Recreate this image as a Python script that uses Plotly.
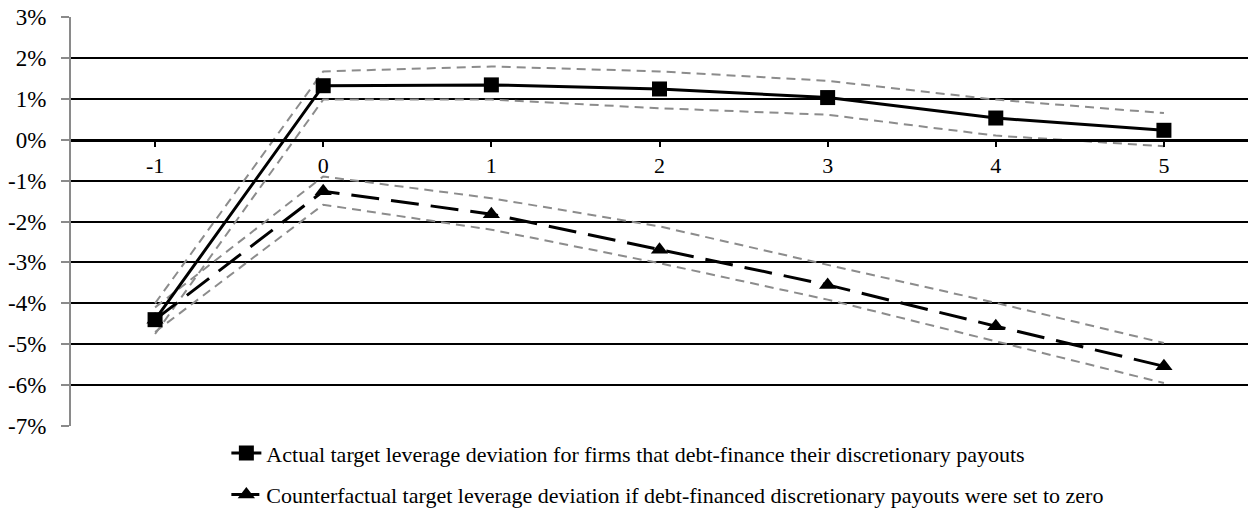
import plotly.graph_objects as go

# Event years relative to the payout
years = ["-1", "0", "1", "2", "3", "4", "5"]

# Target leverage deviation (%), actual path and its confidence band
actual = [-4.40, 1.32, 1.34, 1.24, 1.03, 0.53, 0.23]
actual_hi = [-4.00, 1.67, 1.79, 1.67, 1.44, 0.98, 0.65]
actual_lo = [-4.75, 0.98, 0.98, 0.77, 0.61, 0.10, -0.16]

# Counterfactual path (%) and its confidence band
counter = [-4.40, -1.26, -1.82, -2.69, -3.55, -4.56, -5.54]
counter_hi = [-4.10, -0.90, -1.43, -2.12, -3.06, -3.99, -4.97]
counter_lo = [-4.70, -1.59, -2.20, -3.02, -3.91, -4.93, -5.95]

y_tickvals = [-7, -6, -5, -4, -3, -2, -1, 0, 1, 2, 3]
y_ticktext = ["-7%", "-6%", "-5%", "-4%", "-3%", "-2%", "-1%", "0%", "1%", "2%", "3%"]

name_actual = "Actual target leverage deviation for firms that debt-finance their discretionary payouts"
name_counter = "Counterfactual target leverage deviation if debt-financed discretionary payouts were set to zero"

FONT = "Liberation Serif"
FSIZE = 22
band_line = dict(color="#8c8c8c", width=2, dash="9px,6px")

fig = go.Figure()

for band in (actual_hi, actual_lo, counter_hi, counter_lo):
    fig.add_trace(go.Scatter(x=years, y=band, mode="lines", line=band_line,
                             showlegend=False, hoverinfo="skip"))

fig.add_trace(go.Scatter(
    x=years, y=actual, mode="lines+markers", name=name_actual,
    legendgroup="a",
    line=dict(color="black", width=3),
    marker=dict(symbol="square", size=15, color="black"),
))
fig.add_trace(go.Scatter(
    x=years, y=counter, mode="lines+markers", name=name_counter,
    legendgroup="b",
    line=dict(color="black", width=3, dash="28px,12px"),
    marker=dict(symbol="triangle-up", size=15, color="black"),
))

fig.update_layout(
    width=1249, height=517,
    margin=dict(l=71, r=1, t=17, b=91),
    paper_bgcolor="white", plot_bgcolor="white",
    font=dict(family=FONT, size=FSIZE, color="black"),
    showlegend=True,
    legend=dict(
        x=0.132, xanchor="left", y=-0.015, yanchor="top",
        orientation="v", traceorder="grouped", tracegroupgap=10,
        font=dict(family=FONT, size=FSIZE, color="black"),
        bgcolor="rgba(0,0,0,0)",
    ),
    xaxis=dict(
        type="category", categoryorder="array", categoryarray=years,
        range=[-0.5, 6.5],
        anchor="free", position=0.7,
        showline=True, linecolor="black", linewidth=3,
        ticks="outside", ticklen=5, tickwidth=2, tickcolor="black",
        showgrid=False, zeroline=False,
        tickfont=dict(family=FONT, size=FSIZE, color="black"),
    ),
    yaxis=dict(
        range=[-7, 3],
        tickvals=y_tickvals, ticktext=y_ticktext,
        showgrid=True, gridcolor="black", gridwidth=1.5,
        zeroline=False,
        showline=True, linecolor="#8a8a8a", linewidth=2,
        ticks="outside", ticklen=8, tickwidth=2, tickcolor="#8a8a8a",
        ticklabelstandoff=10,
        tickfont=dict(family=FONT, size=23, color="black"),
    ),
)

fig.write_html("out.html")
